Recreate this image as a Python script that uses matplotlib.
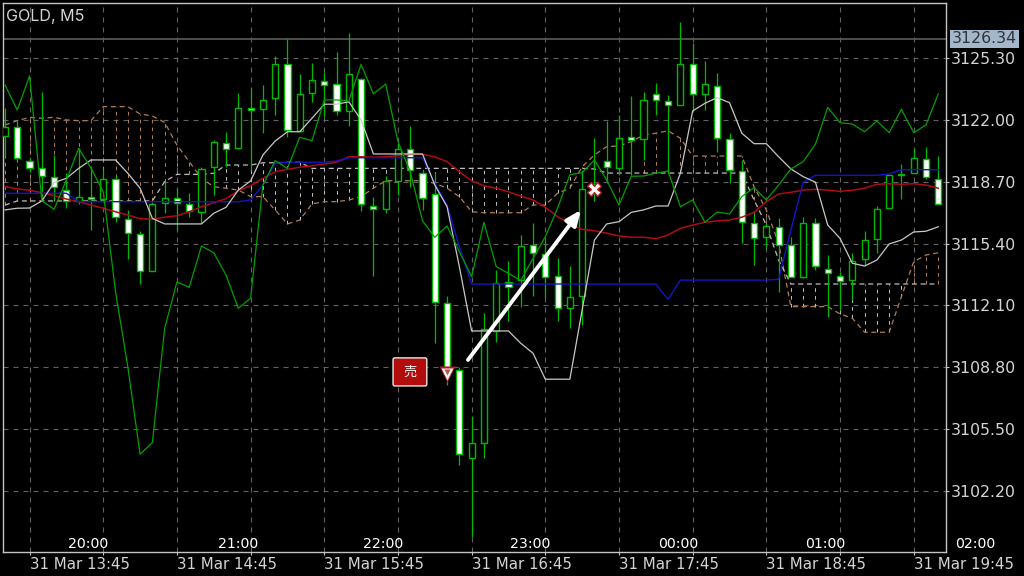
#! /usr/bin/env python

import matplotlib
matplotlib.use('Agg')
import matplotlib.pyplot as plt
from matplotlib.patches import FancyBboxPatch
import numpy as np

TITLE = 'GOLD, M5'

highs = [3122.65, 3121.90, 3119.97, 3123.52, 3120.14, 3119.17, 3120.51, 3119.49, 3119.33, 3119.01, 3117.20,
         3116.09, 3117.64, 3118.71, 3118.37, 3118.12, 3119.49, 3120.94, 3121.35, 3123.43, 3123.70, 3123.88,
         3125.43, 3126.32, 3124.46, 3125.04, 3124.59, 3125.66, 3126.64, 3124.25, 3117.91, 3119.01, 3120.78,
         3121.69, 3119.33, 3119.24, 3112.60, 3108.79, 3106.18, 3111.67, 3113.99, 3114.49, 3115.86, 3116.48,
         3115.59, 3114.61, 3114.20, 3119.33, 3121.03, 3121.97, 3122.27, 3123.29, 3123.52, 3123.97, 3123.34,
         3127.24, 3126.11, 3125.18, 3124.53, 3121.31, 3119.87, 3117.10, 3116.50, 3116.77, 3115.77, 3116.84,
         3116.77, 3114.79, 3113.90, 3114.91, 3116.09, 3117.41, 3119.07, 3119.65, 3120.49, 3120.58, 3120.08]
lows = [3120.03, 3119.87, 3119.23, 3117.89, 3117.73, 3117.30, 3117.52, 3116.13, 3117.73, 3116.57, 3114.58,
        3113.24, 3113.94, 3117.05, 3116.13, 3116.84, 3116.50, 3118.00, 3119.49, 3120.46, 3119.33, 3121.31,
        3122.27, 3121.11, 3121.38, 3122.98, 3122.18, 3122.27, 3121.69, 3117.16, 3113.67, 3117.04, 3118.00,
        3118.44, 3117.20, 3110.07, 3107.84, 3103.57, 3099.73, 3103.96, 3110.12, 3111.28, 3112.03, 3112.60,
        3112.49, 3111.26, 3110.87, 3111.05, 3117.69, 3118.64, 3119.07, 3119.07, 3119.87, 3122.27, 3119.17,
        3122.81, 3122.54, 3122.54, 3120.31, 3118.62, 3115.42, 3114.26, 3115.15, 3112.83, 3113.61, 3113.54,
        3113.99, 3111.49, 3111.85, 3112.38, 3114.26, 3114.88, 3117.29, 3117.77, 3119.15, 3118.84, 3117.50]
opens = [3121.15, 3121.65, 3119.83, 3119.44, 3118.94, 3118.26, 3117.69, 3117.89, 3117.77, 3118.84, 3116.71,
         3115.91, 3113.95, 3117.55, 3117.84, 3117.52, 3117.10, 3119.48, 3120.79, 3120.49, 3122.66, 3122.58,
         3123.20, 3124.98, 3121.43, 3123.43, 3124.07, 3123.91, 3122.50, 3124.18, 3117.43, 3117.23, 3118.76,
         3120.47, 3119.19, 3118.05, 3112.24, 3108.63, 3103.96, 3104.73, 3110.74, 3113.35, 3113.45, 3115.31,
         3114.84, 3113.67, 3111.94, 3112.60, 3118.53, 3119.83, 3119.46, 3121.10, 3120.97, 3123.40, 3123.02,
         3122.81, 3125.00, 3123.38, 3123.81, 3120.97, 3119.30, 3116.48, 3115.74, 3116.29, 3115.31, 3113.63,
         3116.48, 3114.06, 3113.68, 3113.45, 3114.56, 3115.63, 3117.29, 3119.14, 3119.16, 3119.94, 3118.87]
closes = [3121.65, 3119.96, 3119.46, 3119.03, 3118.41, 3117.68, 3117.91, 3117.77, 3118.84, 3116.81, 3115.97,
          3113.95, 3117.53, 3117.82, 3117.57, 3117.16, 3119.40, 3120.85, 3120.46, 3122.66, 3122.52, 3123.09,
          3125.00, 3121.47, 3123.41, 3124.16, 3123.89, 3122.49, 3124.45, 3117.53, 3117.23, 3118.73, 3120.47,
          3119.33, 3117.85, 3112.26, 3108.82, 3104.14, 3104.73, 3110.82, 3113.31, 3113.06, 3115.27, 3114.90,
          3113.63, 3111.96, 3112.53, 3118.33, 3118.10, 3119.48, 3121.06, 3120.94, 3123.06, 3123.08, 3122.82,
          3124.98, 3123.41, 3123.91, 3121.03, 3119.33, 3116.55, 3115.68, 3116.32, 3115.32, 3113.63, 3116.48,
          3114.20, 3113.81, 3113.42, 3114.49, 3115.59, 3117.23, 3119.05, 3119.08, 3119.96, 3118.94, 3117.50]

chikou = [3123.88, 3122.54, 3124.36, 3117.69, 3117.23, 3118.80, 3120.49, 3119.44, 3118.17, 3112.83, 3108.82,
          3104.14, 3104.76, 3110.87, 3113.35, 3113.06, 3115.27, 3114.91, 3113.72, 3111.94, 3112.48, 3118.53,
          3119.83, 3119.42, 3121.08, 3120.90, 3123.08, 3123.08, 3123.02, 3124.98, 3123.40, 3123.93, 3120.85,
          3119.24, 3116.61, 3115.74, 3116.34, 3114.97, 3113.63, 3116.54, 3114.17, 3113.81, 3113.42, 3114.61,
          3115.77, 3117.29, 3119.08, 3119.19, 3119.87, 3118.80, 3117.46, 3119.00, 3119.01, 3119.16, 3119.28,
          3117.37, 3117.73, 3116.54, 3117.09, 3116.98, 3117.91, 3118.39, 3117.73, 3118.53, 3119.39, 3119.78,
          3120.72, 3122.68, 3121.86, 3121.79, 3121.38, 3121.95, 3121.33, 3122.58, 3121.33, 3121.74, 3123.40]
tenkan = [3117.20, 3117.29, 3117.30, 3117.68, 3118.66, 3118.89, 3119.42, 3119.87, 3119.87, 3119.87, 3119.16,
          3118.36, 3116.75, 3116.45, 3116.45, 3116.45, 3116.45, 3117.02, 3117.34, 3118.26, 3118.75, 3120.14,
          3120.88, 3121.38, 3121.38, 3122.10, 3122.85, 3122.85, 3122.98, 3122.01, 3120.19, 3120.19, 3120.19,
          3120.19, 3120.19, 3118.53, 3117.37, 3114.17, 3110.73, 3110.73, 3110.73, 3110.73, 3110.07, 3109.54,
          3108.15, 3108.15, 3108.15, 3111.85, 3115.59, 3116.45, 3116.57, 3117.07, 3117.20, 3117.41, 3117.41,
          3119.16, 3122.49, 3122.90, 3123.20, 3122.93, 3121.30, 3120.74, 3120.74, 3120.04, 3119.39, 3118.98,
          3118.68, 3116.39, 3115.68, 3114.35, 3114.20, 3114.52, 3115.38, 3115.59, 3116.02, 3116.06, 3116.30]
kijun = [3118.09, 3118.09, 3118.09, 3118.09, 3118.09, 3118.09, 3117.64, 3117.64, 3117.64, 3117.64, 3117.64,
         3117.64, 3117.64, 3117.64, 3117.64, 3117.64, 3117.64, 3117.64, 3117.64, 3117.64, 3117.73, 3118.53,
         3119.69, 3119.75, 3119.75, 3119.75, 3119.75, 3119.81, 3119.99, 3119.99, 3119.99, 3119.99, 3119.99,
         3119.99, 3119.99, 3118.62, 3117.46, 3115.23, 3113.24, 3113.24, 3113.24, 3113.24, 3113.24, 3113.24,
         3113.24, 3113.24, 3113.24, 3113.24, 3113.24, 3113.24, 3113.24, 3113.24, 3113.24, 3113.24, 3112.42,
         3113.45, 3113.45, 3113.45, 3113.45, 3113.45, 3113.45, 3113.45, 3113.45, 3113.49, 3116.13, 3118.68,
         3119.05, 3119.05, 3119.05, 3119.05, 3119.05, 3119.05, 3119.12, 3119.35, 3119.35, 3119.35, 3119.35]
moving_avg = [3118.44, 3118.33, 3118.25, 3118.12, 3117.96, 3117.78, 3117.64, 3117.46, 3117.29, 3117.10, 3116.93,
              3116.73, 3116.70, 3116.81, 3116.89, 3117.10, 3117.37, 3117.59, 3117.80, 3118.23, 3118.49, 3118.89,
              3119.24, 3119.37, 3119.48, 3119.56, 3119.65, 3119.75, 3120.04, 3120.04, 3120.01, 3120.04, 3120.10,
              3120.17, 3120.17, 3120.04, 3119.78, 3119.24, 3118.75, 3118.49, 3118.36, 3118.17, 3117.94, 3117.73,
              3117.34, 3116.84, 3116.45, 3116.16, 3116.09, 3115.95, 3115.81, 3115.74, 3115.74, 3115.66, 3115.86,
              3116.22, 3116.39, 3116.54, 3116.61, 3116.66, 3116.81, 3117.07, 3117.64, 3118.05, 3118.14, 3118.26,
              3118.30, 3118.26, 3118.19, 3118.25, 3118.36, 3118.57, 3118.60, 3118.57, 3118.60, 3118.53, 3118.36]
span_a = [3121.74, 3121.97, 3122.15, 3122.10, 3122.15, 3122.01, 3121.97, 3121.97, 3122.72, 3122.72, 3122.72,
          3122.33, 3122.22, 3121.88, 3120.67, 3119.78, 3118.89, 3118.44, 3118.36, 3118.26, 3117.91, 3117.91,
          3117.20, 3116.45, 3116.66, 3117.52, 3117.64, 3117.64, 3117.73, 3117.91, 3118.36, 3118.76, 3118.76,
          3118.76, 3118.76, 3118.62, 3118.36, 3117.91, 3117.10, 3117.05, 3117.05, 3117.05, 3117.05, 3117.46,
          3117.46, 3118.09, 3118.36, 3119.51, 3120.14, 3120.58, 3120.62, 3120.85, 3121.20, 3121.30, 3121.43,
          3121.03, 3120.08, 3120.08, 3120.08, 3120.08, 3120.08, 3118.44, 3117.20, 3115.42, 3112.03, 3112.03,
          3112.03, 3112.03, 3111.64, 3111.41, 3110.66, 3110.66, 3110.66, 3112.56, 3114.43, 3114.79, 3114.91]
span_b = [3117.46, 3117.68, 3117.68, 3117.68, 3117.68, 3117.68, 3117.68, 3117.68, 3117.68, 3117.68, 3117.68,
          3117.68, 3117.68, 3118.71, 3119.10, 3119.10, 3119.10, 3119.16, 3119.60, 3119.60, 3119.60, 3119.72,
          3119.72, 3119.75, 3119.75, 3119.42, 3119.42, 3119.42, 3119.42, 3119.42, 3119.42, 3119.42, 3119.42,
          3119.42, 3119.42, 3119.42, 3119.42, 3119.42, 3119.42, 3119.42, 3119.42, 3119.42, 3119.42, 3119.42,
          3119.42, 3119.42, 3119.42, 3119.42, 3119.39, 3119.17, 3119.17, 3119.17, 3119.17, 3119.17, 3119.17,
          3119.17, 3119.17, 3119.17, 3119.17, 3119.17, 3119.17, 3117.73, 3116.39, 3114.52, 3113.24, 3113.24,
          3113.24, 3113.24, 3113.24, 3113.24, 3113.24, 3113.24, 3113.24, 3113.24, 3113.24, 3113.24, 3113.24]

price_ticks = [3125.30, 3122.00, 3118.70, 3115.40, 3112.10, 3108.80, 3105.50, 3102.20]
current_price = 3126.34

date_ticks = [2, 14, 26, 38, 50, 62, 74]
date_labels = ['31 Mar 13:45', '31 Mar 14:45', '31 Mar 15:45', '31 Mar 16:45',
               '31 Mar 17:45', '31 Mar 18:45', '31 Mar 19:45']
mid_ticks = [8, 20, 32, 44, 56, 68]
hour_pos = [6.8, 18.95, 30.8, 42.8, 54.8, 66.8, 79.0]
hour_labels = ['20:00', '21:00', '22:00', '23:00', '00:00', '01:00', '02:00']

entry_bar = 36
entry_price = 3108.43
exit_bar = 48
exit_price = 3118.31
arrow_start = (37.7, 3109.18)
arrow_end = (46.9, 3117.20)
sell_label = '売'
sell_box_x = (31.6, 34.35)
sell_box_y = (3107.79, 3109.29)

GRID = '#626262'
FRAME = '#c4c4c4'
LABEL = '#d4d4d4'
CANDLE = '#00b800'
ORANGE = '#b07c52'
PALE = '#bcbcbc'

fig = plt.figure(figsize=(10.24, 5.76), dpi=100, facecolor='black')
ax = fig.add_axes([3 / 1024, 1 - 551.7 / 576, 943 / 1024, 548.7 / 576], facecolor='black')

n = len(closes)
x = np.arange(n)
o = np.array(opens)
c = np.array(closes)
a = np.array(span_a)
b = np.array(span_b)

# cloud first, candles over it, indicator lines over the candles
a_on_top = a >= b
ax.vlines(x[a_on_top], b[a_on_top], a[a_on_top], colors=ORANGE, linewidth=0.75,
          linestyles=(0, (3.5, 4)), zorder=2)
ax.vlines(x[~a_on_top], a[~a_on_top], b[~a_on_top], colors=PALE, linewidth=0.75,
          linestyles=(0, (3.5, 4)), zorder=2)
ax.plot(x, span_a, color=ORANGE, linewidth=0.9, linestyle=(0, (4, 3)), zorder=2)
ax.plot(x, span_b, color=PALE, linewidth=0.9, linestyle=(0, (4, 3)), zorder=2)

ax.vlines(x, lows, highs, colors=CANDLE, linewidth=0.9, zorder=3)
faces = ['white' if close < open_ else 'black' for open_, close in zip(o, c)]
ax.bar(x, np.abs(c - o), bottom=np.minimum(o, c), width=0.5, color=faces,
       edgecolor=CANDLE, linewidth=1.0, zorder=4)

ax.plot(x, moving_avg, color='#b00a14', linewidth=1.1, zorder=5)
ax.plot(x, kijun, color='#1414c8', linewidth=1.0, zorder=5)
ax.plot(x, tenkan, color='#c8c8c8', linewidth=0.9, zorder=5)
ax.plot(x, chikou, color='#00a000', linewidth=0.9, zorder=5)

ax.axhline(current_price, color='#5c5c5c', linewidth=1.2, zorder=1)

# the trade
ax.annotate('', xy=arrow_end, xytext=arrow_start, zorder=7,
            arrowprops=dict(arrowstyle='-|>,head_length=0.75,head_width=0.32', color='white',
                            linewidth=2.8, shrinkA=0, shrinkB=0, mutation_scale=12))
ax.plot([entry_bar], [entry_price], marker='v', markersize=11, markerfacecolor='#c4141e',
        markeredgecolor='none', zorder=7)
ax.plot([entry_bar], [entry_price], marker='v', markersize=8.6, markerfacecolor='#f4f4f4',
        markeredgecolor='none', zorder=8)
ax.plot([entry_bar], [entry_price + 0.1], marker='v', markersize=5, markerfacecolor='#a85a4c',
        markeredgecolor='none', zorder=9)
ax.plot([exit_bar], [exit_price], marker='X', markersize=10, markerfacecolor='white',
        markeredgecolor='#c4141e', markeredgewidth=1.0, zorder=7)

ax.add_patch(FancyBboxPatch((sell_box_x[0], sell_box_y[0]), sell_box_x[1] - sell_box_x[0],
                            sell_box_y[1] - sell_box_y[0], boxstyle='round,pad=0,rounding_size=0.15',
                            mutation_aspect=0.65, facecolor='#b20c0c', edgecolor='#e8e8e8',
                            linewidth=1.0, zorder=8))
ax.text(sum(sell_box_x) / 2, sum(sell_box_y) / 2, sell_label, ha='center', va='center', color='#f4f4f4',
        fontsize=9.5, zorder=9, family=['Noto Sans CJK JP', 'DejaVu Sans'])

ax.set_xlim(-0.163, 76.63)
ax.set_ylim(3098.93, 3128.26)

ax.set_xticks(date_ticks)
ax.set_xticklabels(date_labels, ha='left', fontsize=10.8, color=LABEL)
ax.set_xticks(mid_ticks, minor=True)
ax.yaxis.tick_right()
ax.set_yticks(price_ticks)
ax.set_yticklabels(['%.2f' % p for p in price_ticks], fontsize=11.3, color=LABEL)
ax.tick_params(axis='x', which='both', length=2.5, width=0.8, color=FRAME, pad=1.5)
ax.tick_params(axis='y', length=2.5, width=0.8, color=FRAME, pad=1)
ax.grid(True, which='both', color=GRID, linewidth=0.8, linestyle=(0, (4.5, 4.5)), zorder=0)
ax.set_axisbelow(True)
for spine in ax.spines.values():
	spine.set_color(FRAME)
	spine.set_linewidth(1.0)

for pos, label in zip(hour_pos, hour_labels):
	ax.annotate(label, xy=(pos, 0), xycoords=('data', 'axes fraction'), xytext=(0, 5.5),
	            textcoords='offset points', ha='center', va='center', color='white',
	            fontsize=10.2, annotation_clip=False)

ax.annotate(current_price, xy=(1, current_price), xycoords=('axes fraction', 'data'),
            xytext=(27.7, 0), textcoords='offset points', ha='center', va='center',
            color='#30343a', fontsize=11.3, annotation_clip=False,
            bbox=dict(boxstyle='square,pad=0.12', facecolor='#a4b6ca', edgecolor='none'))

ax.text(3 / 943, 1 - 13.5 / 548.7, TITLE, transform=ax.transAxes, ha='left', va='center',
        color=LABEL, fontsize=11.6, family=['Inter', 'DejaVu Sans'])

fig.savefig('out.png', dpi=100, facecolor='black')
